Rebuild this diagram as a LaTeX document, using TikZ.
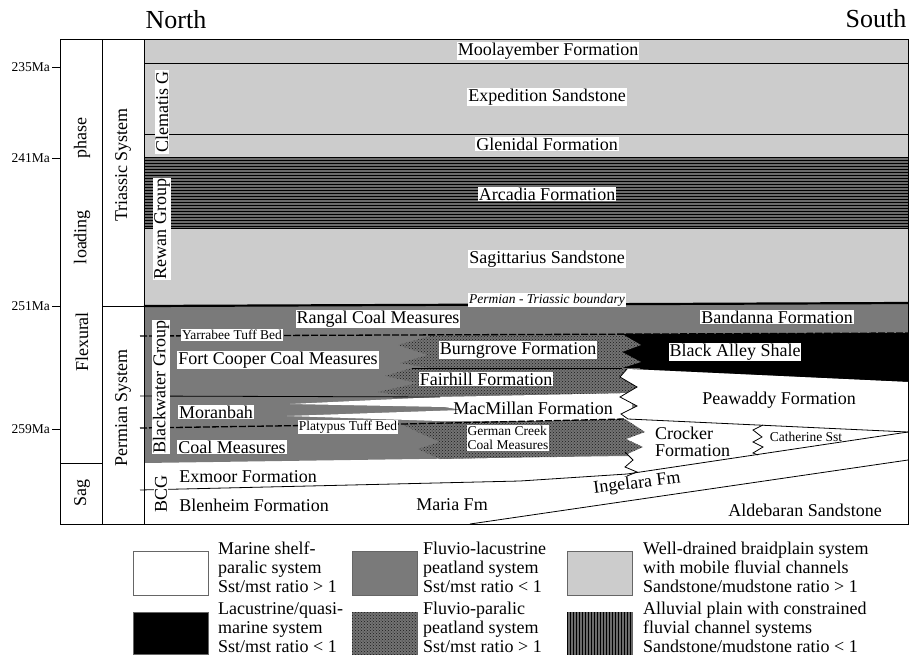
\documentclass[tikz,border=0pt]{standalone}
\usepackage{fontspec}
\setmainfont{Liberation Serif}
\usetikzlibrary{patterns}
\begin{document}
\begin{tikzpicture}[x=1pt,y=-1pt,
  big/.style={font=\fontsize{18}{19}\selectfont},
  sml/.style={font=\fontsize{13.5}{15}\selectfont},
  hdr/.style={font=\fontsize{26}{28}\selectfont},
  lab/.style={big, fill=white, inner sep=1pt},
  slab/.style={sml, fill=white, inner sep=1pt},
  ln/.style={line width=0.8pt},
  bnd/.style={line width=2.2pt},
  tuff/.style={line width=1.3pt, dash pattern=on 7pt off 2pt},
  braid/.style={fill=black!20},
  lacus/.style={fill=black!52},
  paralic/.style={fill=black!55, postaction={pattern=crosshatch dots, pattern color=black!90}},
  alluv/.style={fill=black!58, postaction={pattern=horizontal lines, pattern color=black}},
  alluvv/.style={fill=black!58, postaction={pattern=vertical lines, pattern color=black}},
  legtext/.style={align=left, anchor=north west, inner sep=0pt, font=\fontsize{18}{19}\selectfont},
  legbox/.style={draw=black!60, line width=0.6pt}
]
\useasboundingbox (0,0) rectangle (910,659);
\fill[white] (0,0) rectangle (910,659);

% ---------- Triassic ----------
\fill[braid] (144,39) rectangle (908,306);
\fill[alluv] (144,157) rectangle (908,228);
\draw[ln] (144,63) -- (908,63);
\draw[ln] (144,134) -- (908,134);
\draw[ln] (144,157) -- (908,157);
\draw[ln] (144,228) -- (908,228);

% ---------- Permian ----------
\fill[lacus] (144,306) -- (908,303) -- (908,470) -- (625,456) -- (144,463) -- cycle;
% Black Alley Shale
\fill[black] (620,334) -- (908,333) -- (908,382) -- (633,369) -- (620,369) -- cycle;
% Fairhill
\fill[paralic] (412,368) -- (640,368) -- (640,394) -- (405,396) -- (378,392) -- (418,383) -- (385,376) -- cycle;
% Burngrove
\fill[paralic] (434,335) -- (622,334) -- (641,345) -- (622,352) -- (641,362) -- (622,368) -- (430,368) -- (400,363) -- (428,355) -- (398,345) -- cycle;
% Peawaddy / Crocker (white, east)
\fill[white] (627,369) -- (908,382) -- (908,470) -- (627,476) -- (637,472) -- (625,467) -- (633,460) -- (625,452) -- (625,420) -- (628,419) -- (621,414) -- (637,406) -- (620,397) -- (637,387) -- (620,377) -- cycle;
% MacMillan
\fill[white] (632,393) -- (440,397) -- (290,404) -- (445,407) -- (462,410) -- (287,416) -- (440,421) -- (632,421) -- cycle;
% German Creek
\fill[paralic] (402,424) -- (625,419) -- (645,432) -- (626,439) -- (643,447) -- (625,455) -- (440,459) -- (418,449) -- (440,442) -- (420,433) -- cycle;

% lines
\draw[tuff] (140,336) -- (908,333);
\draw[ln] (412,368) -- (622,368);
\draw[ln] (140,396) -- (440,397);
\draw[tuff] (140,428) -- (402,424) -- (625,419);
\draw[ln] (628,419) -- (908,432);
\draw[ln] (627,369) -- (620,377) -- (637,387) -- (620,397) -- (637,406) -- (621,414) -- (628,419);
\draw[ln] (625,452) -- (633,460) -- (625,467) -- (637,472) -- (627,476);
\draw[ln] (763,425) -- (753,430) -- (762,437) -- (753,442) -- (763,447) -- (753,453) -- (758,455);
\draw[ln] (140,490) -- (520,481) -- (627,474) -- (908,432);
\draw[ln] (470,524) -- (908,460);
\draw[bnd] (144,306) -- (908,303);

% ---------- frame ----------
\draw[ln] (60,39) rectangle (908,524);
\draw[ln] (102,39) -- (102,524);
\draw[ln] (144,39) -- (144,524);
\draw[ln] (60,463) -- (102,463);
\draw[ln] (102,306) -- (144,306);
\foreach \yy/\tt/\nm in {67/235Ma/ta,158/241Ma/tb,306/251Ma/tc,429/259Ma/td}{
  \draw[ln] (52,\yy) -- (60,\yy);
  \node[sml, anchor=east, inner sep=0pt] (\nm) at (50,\yy) {\tt};
}

% header
\node[hdr] (north) at (176,20) {North};
\node[hdr] (south) at (876,19) {South};

% column texts
\node[big, rotate=90] (phase) at (82,138) {phase};
\node[big, rotate=90] (loading) at (82,237) {loading};
\node[big, rotate=90] (flex) at (82,342) {Flexural};
\node[big, rotate=90] (sag) at (82,493) {Sag};
\node[big, rotate=90] (tri) at (123,165) {Triassic System};
\node[big, rotate=90] (perm) at (123,408) {Permian System};
\node[lab, rotate=90] (clem) at (162,112) {Clematis G};
\node[lab, rotate=90] (rewan) at (162,229) {Rewan Group};
\node[lab, rotate=90] (bwg) at (161,387) {Blackwater Group};
\node[lab, rotate=90] (bcg) at (161,494) {BCG};

% formation labels
\node[lab] (moo) at (548,51) {Moolayember Formation};
\node[lab] (exp) at (547,97) {Expedition Sandstone};
\node[lab] (gle) at (547,144) {Glenidal Formation};
\node[lab] (arc) at (547,194) {Arcadia Formation};
\node[lab] (sag2) at (547,259) {Sagittarius Sandstone};
\node[slab, font=\fontsize{13.5}{15}\selectfont\itshape] (ptb) at (547,300) {Permian - Triassic boundary};
\node[lab] (ran) at (378,319) {Rangal Coal Measures};
\node[lab] (ban) at (777,317) {Bandanna Formation};
\node[slab] (yar) at (232,335) {Yarrabee Tuff Bed};
\node[lab] (fcc) at (278,360) {Fort Cooper Coal Measures};
\node[lab] (bur) at (518,350) {Burngrove Formation};
\node[lab] (bas) at (735,352) {Black Alley Shale};
\node[lab] (fai) at (486,379) {Fairhill Formation};
\node[lab] (mor) at (216,412) {Moranbah};
\node[big, inner sep=1pt] (mac) at (533,408) {MacMillan Formation};
\node[big, inner sep=1pt] (pea) at (779,400) {Peawaddy Formation};
\node[slab] (pla) at (348,427) {Platypus Tuff Bed};
\node[slab, align=left, font=\fontsize{13.5}{14.5}\selectfont] (gcc) at (508,438) {German Creek\\Coal Measures};
\node[align=left, anchor=west, inner sep=0pt, font=\fontsize{18}{17}\selectfont] (cro) at (655,442) {Crocker\\Formation};
\node[sml, inner sep=1pt] (cat) at (806,437) {Catherine Sst};
\node[lab] (cm) at (232,447) {Coal Measures};
\node[big, inner sep=1pt] (exm) at (248,477) {Exmoor Formation};
\node[big, inner sep=1pt] (ble) at (254,505) {Blenheim Formation};
\node[big, inner sep=1pt] (mar) at (452,505) {Maria Fm};
\node[big, inner sep=0pt, rotate=7] (ing) at (637,484) {Ingelara Fm};
\node[big, inner sep=1pt] (ald) at (805,510) {Aldebaran Sandstone};

% ---------- legend ----------
\draw[legbox, fill=white] (133,551) rectangle (208,595);
\draw[legbox, fill=black] (133,612) rectangle (208,654);
\draw[legbox, lacus] (352,551) rectangle (417,595);
\draw[legbox, paralic] (352,612) rectangle (417,654);
\draw[legbox, braid] (567,551) rectangle (632,595);
\draw[legbox, alluvv] (567,612) rectangle (632,654);
\node[legtext] (l1) at (218,542) {Marine shelf-\\paralic system\\Sst/mst ratio > 1};
\node[legtext] (l2) at (218,602) {Lacustrine/quasi-\\marine system\\Sst/mst ratio < 1};
\node[legtext] (l3) at (423,542) {Fluvio-lacustrine\\peatland system\\Sst/mst ratio < 1};
\node[legtext] (l4) at (423,602) {Fluvio-paralic\\peatland system\\Sst/mst ratio > 1};
\node[legtext] (l5) at (643,542) {Well-drained braidplain system\\with mobile fluvial channels\\Sandstone/mudstone ratio > 1};
\node[legtext] (l6) at (643,602) {Alluvial plain with constrained\\fluvial channel systems\\Sandstone/mudstone ratio < 1};
\end{tikzpicture}
\end{document}
